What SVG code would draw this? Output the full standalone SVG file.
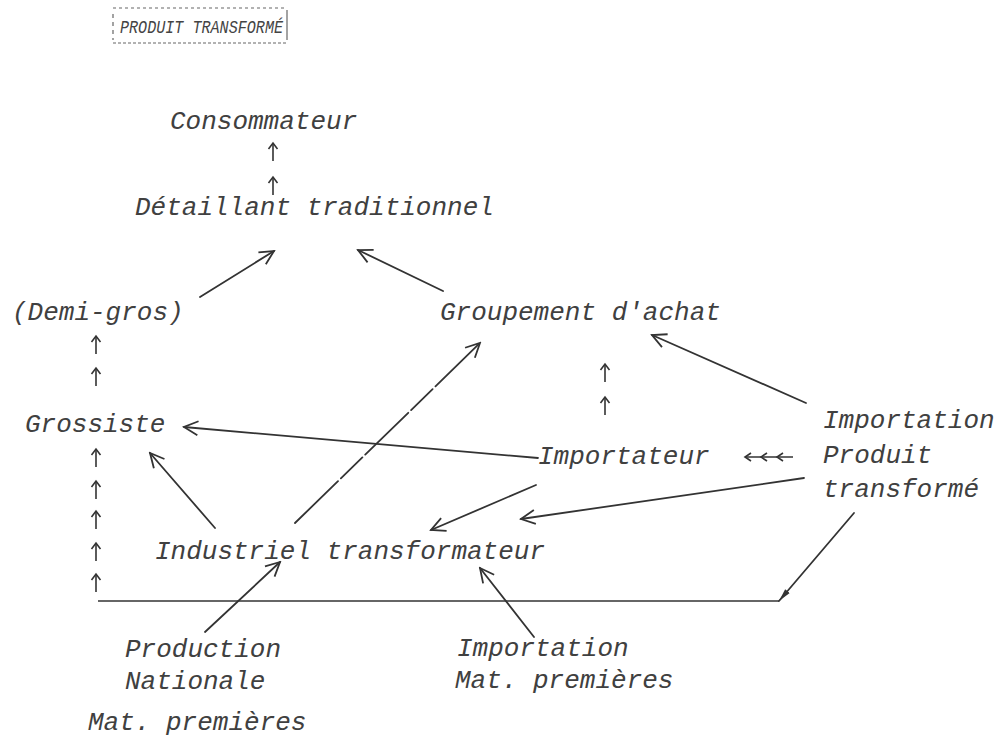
<svg xmlns="http://www.w3.org/2000/svg" width="1005" height="741" viewBox="0 0 1005 741">
<style>
.t{font-family:"Liberation Mono","DejaVu Sans Mono",monospace;font-style:italic;font-size:26px;fill:#404040}
.ttl{font-family:"Liberation Mono","DejaVu Sans Mono",monospace;font-style:italic;font-size:18px;fill:#444}
.c{stroke:#333;stroke-width:1.8;fill:none;stroke-linecap:round}
.s{stroke:#333;stroke-width:1.6;fill:none}
</style>
<defs>
<marker id="open" viewBox="0 0 20 20" refX="18" refY="10" markerWidth="20" markerHeight="20" markerUnits="userSpaceOnUse" orient="auto">
<path d="M4,3 L18,10 L4,17" fill="none" stroke="#333" stroke-width="1.8"/>
</marker>
<marker id="fill" viewBox="0 0 14 10" refX="13" refY="5" markerWidth="14" markerHeight="10" markerUnits="userSpaceOnUse" orient="auto">
<path d="M0,2 L13,5 L0,8 Z" fill="#333"/>
</marker>
<g id="up">
<line x1="0" y1="9" x2="0" y2="-9" stroke="#333" stroke-width="1.6"/>
<path d="M-4.5,-3 L0,-9 L4.5,-3" fill="none" stroke="#333" stroke-width="1.6"/>
</g>
</defs>
<rect width="1005" height="741" fill="#fff"/>

<g id="title">
<line x1="113" y1="8" x2="287" y2="8" stroke="#666" stroke-width="1.2" stroke-dasharray="3,3"/>
<line x1="113" y1="43" x2="287" y2="43" stroke="#666" stroke-width="1.2" stroke-dasharray="3,2"/>
<line x1="113" y1="14" x2="113" y2="40" stroke="#666" stroke-width="1.2" stroke-dasharray="4,4"/>
<line x1="287" y1="10" x2="287" y2="40" stroke="#666" stroke-width="1.2"/>
<text class="ttl" x="120" y="33" textLength="163" lengthAdjust="spacingAndGlyphs">PRODUIT TRANSFORMÉ</text>
</g>

<g id="consommateur"><text class="t" x="170" y="129">Consommateur</text></g>
<g id="detaillant"><text class="t" x="135" y="215">Détaillant traditionnel</text></g>
<g id="demigros"><text class="t" x="12" y="320">(Demi-gros)</text></g>
<g id="groupement"><text class="t" x="440" y="320">Groupement d'achat</text></g>
<g id="grossiste"><text class="t" x="25" y="432">Grossiste</text></g>
<g id="importateur"><text class="t" x="538" y="464">Importateur</text></g>
<g id="importation-pt">
<text class="t" x="823" y="428">Importation</text>
<text class="t" x="823" y="463">Produit</text>
<text class="t" x="823" y="497">transformé</text>
</g>
<g id="industriel"><text class="t" x="155" y="559" textLength="390" lengthAdjust="spacing">Industriel transformateur</text></g>
<g id="production">
<text class="t" x="125" y="657">Production</text>
<text class="t" x="125" y="689">Nationale</text>
</g>
<g id="matpremieres"><text class="t" x="88" y="730">Mat. premières</text></g>
<g id="importation-mp">
<text class="t" x="457" y="656">Importation</text>
<text class="t" x="455" y="688">Mat. premières</text>
</g>

<g id="connectors">
<use href="#up" x="273" y="152"/>
<use href="#up" x="273" y="186"/>
<use href="#up" x="96" y="345"/>
<use href="#up" x="96" y="377"/>
<use href="#up" x="605" y="373"/>
<use href="#up" x="605" y="406"/>
<use href="#up" x="96" y="458"/>
<use href="#up" x="96" y="490"/>
<use href="#up" x="96" y="520"/>
<use href="#up" x="96" y="552"/>
<use href="#up" x="96" y="583"/>

<line class="c" x1="200" y1="297" x2="274" y2="251" marker-end="url(#open)"/>
<line class="c" x1="443" y1="291" x2="358" y2="250" marker-end="url(#open)"/>
<line class="c" x1="538" y1="458" x2="184" y2="427" marker-end="url(#open)"/>
<line class="c" x1="215" y1="528" x2="150" y2="453" marker-end="url(#open)"/>
<line class="c" x1="295" y1="523" x2="480" y2="343" stroke-dasharray="60,4,30,4" marker-end="url(#open)"/>
<line class="c" x1="806" y1="403" x2="652" y2="335" marker-end="url(#open)"/>
<line class="c" x1="536" y1="485" x2="431" y2="530" marker-end="url(#open)"/>
<line class="c" x1="804" y1="478" x2="521" y2="519" marker-end="url(#open)"/>
<line class="c" x1="205" y1="632" x2="280" y2="562" marker-end="url(#open)"/>
<line class="c" x1="534" y1="637" x2="480" y2="568" marker-end="url(#open)"/>

<line class="s" x1="98" y1="601" x2="779" y2="601"/>
<line class="c" x1="854" y1="513" x2="779" y2="601" marker-end="url(#fill)"/>

<g id="triple">
<line class="s" x1="745" y1="457" x2="793" y2="457"/>
<path class="s" d="M751,453 L745,457 L751,461 M767,453 L761,457 L767,461 M783,453 L777,457 L783,461"/>
</g>
</g>
</svg>
